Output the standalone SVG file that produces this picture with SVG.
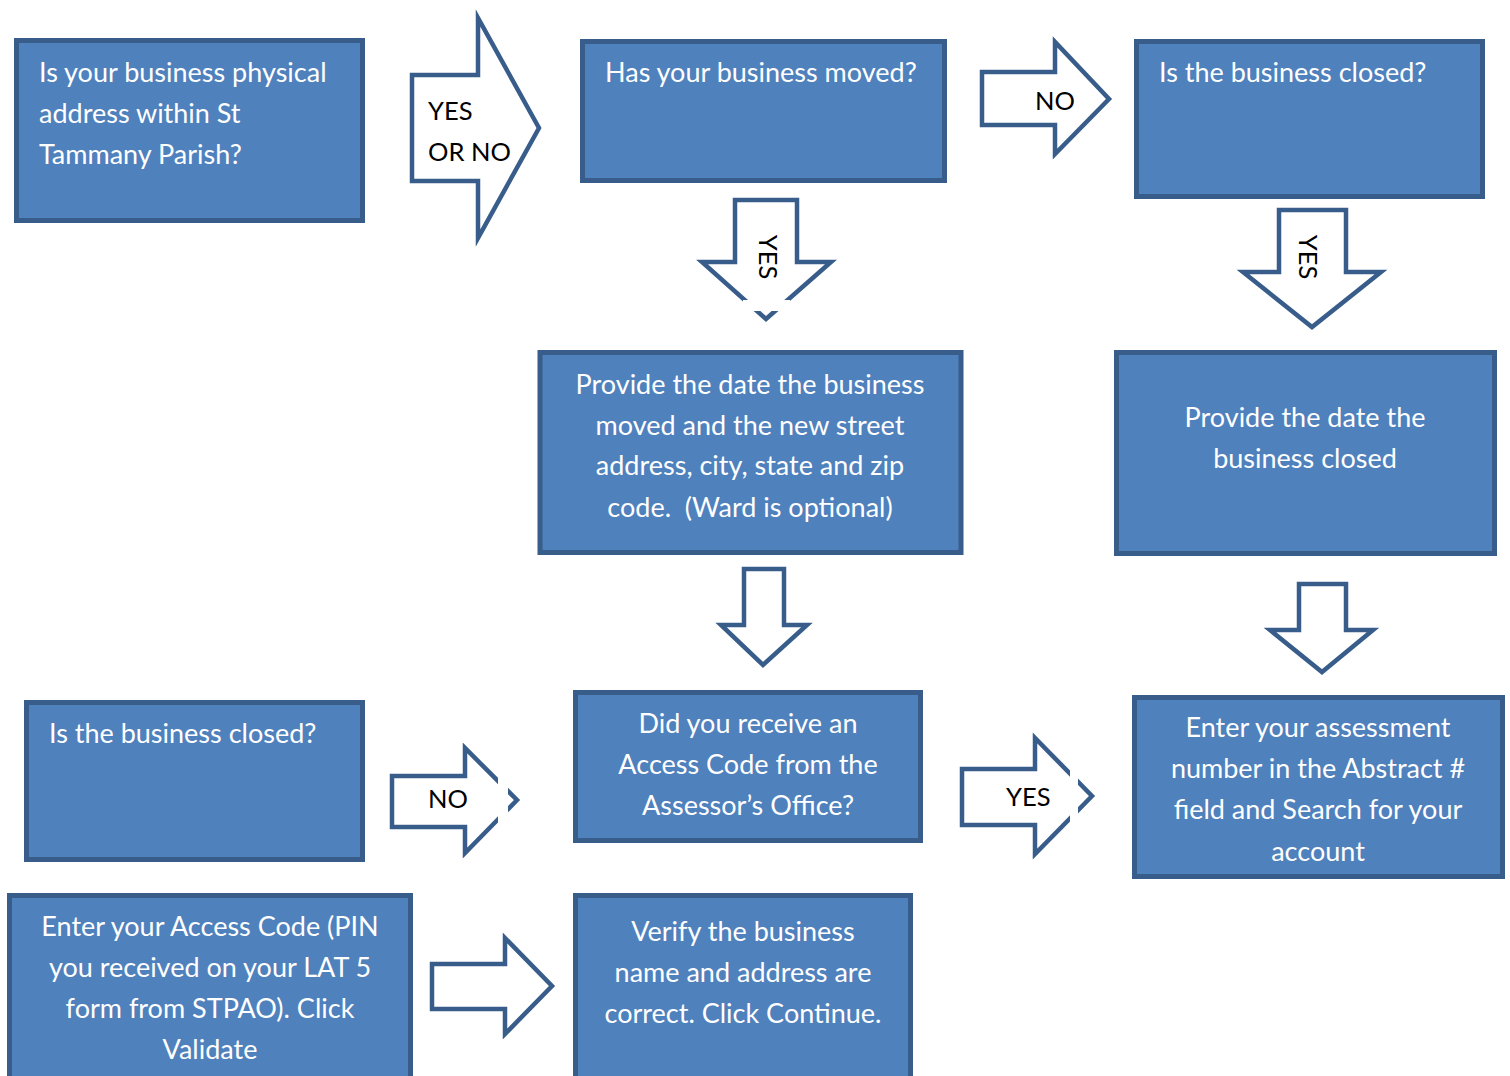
<svg xmlns="http://www.w3.org/2000/svg" width="1510" height="1076" viewBox="0 0 1510 1076">
<style>
.box{fill:#4F81BD;stroke:#385D8A;stroke-width:5}
.arr{fill:#FFFFFF;stroke:#385D8A;stroke-width:4.5;stroke-linejoin:miter}
.t{font-family:Lato,"Liberation Sans",sans-serif;font-size:27px;fill:#FFFFFF}
.c{text-anchor:middle}
.l{font-family:Lato,"Liberation Sans",sans-serif;font-size:25.5px;fill:#000000}
.gap{fill:#FFFFFF;stroke:none}
</style>
<rect x="0" y="0" width="1510" height="1076" fill="#FFFFFF"/>
<g id="connectors">
<polygon class="arr" points="412,75 478,75 478,18 539,128 478,238 478,181 412,181"/>
<polygon class="arr" points="982,72 1055,72 1055,42 1109,99 1055,154 1055,125 982,125"/>
<polygon class="arr" points="735,200 797,200 797,262 831,262 766,319 702,262 735,262"/>
<rect class="gap" x="743" y="300" width="47" height="11"/>
<polygon class="arr" points="1279,210 1346,210 1346,272 1381,272 1312,327 1243,272 1279,272"/>
<polygon class="arr" points="744,569 784,569 784,625 807,625 763,665 721,625 744,625"/>
<polygon class="arr" points="1299,584 1346,584 1346,630 1373,630 1322,672 1270,630 1299,630"/>
<polygon class="arr" points="392,776 465,776 465,748 517,800 465,853 465,827 392,827"/>
<rect class="gap" x="498" y="772" width="10" height="56"/>
<polygon class="arr" points="962,769 1035,769 1035,738 1092,796 1035,854 1035,825 962,825"/>
<rect class="gap" x="1070" y="770" width="8" height="54"/>
<polygon class="arr" points="432,964 505,964 505,938 552,986 505,1034 505,1009 432,1009"/>
<text class="l" x="428" y="120">YES</text>
<text class="l" x="428" y="161">OR NO</text>
<text class="l" x="1035" y="110">NO</text>
<text class="l c" transform="translate(768,257) rotate(90)" y="9">YES</text>
<text class="l c" transform="translate(1308,257) rotate(90)" y="9">YES</text>
<text class="l" x="428" y="808">NO</text>
<text class="l" x="1006" y="806">YES</text>
</g>
<g id="n1">
<rect class="box" x="16.5" y="40.5" width="346" height="180"/>
<text class="t" x="39" y="82">Is your business physical</text>
<text class="t" x="39" y="123">address within St</text>
<text class="t" x="39" y="164">Tammany Parish?</text>
</g>
<g id="n2">
<rect class="box" x="582.5" y="41.5" width="362" height="139"/>
<text class="t" x="605" y="82">Has your business moved?</text>
</g>
<g id="n3">
<rect class="box" x="1136.5" y="41.5" width="346" height="155"/>
<text class="t" x="1159" y="82">Is the business closed?</text>
</g>
<g id="n4">
<rect class="box" x="540" y="352.5" width="421" height="200"/>
<text class="t c" x="750" y="394">Provide the date the business</text>
<text class="t c" x="750" y="435">moved and the new street</text>
<text class="t c" x="750" y="475">address, city, state and zip</text>
<text class="t c" x="750" y="517" xml:space="preserve">code.  (Ward is optional)</text>
</g>
<g id="n5">
<rect class="box" x="1116.5" y="352.5" width="378" height="201"/>
<text class="t c" x="1305" y="427">Provide the date the</text>
<text class="t c" x="1305" y="468">business closed</text>
</g>
<g id="n6">
<rect class="box" x="26.5" y="702.5" width="336" height="157"/>
<text class="t" x="49" y="743">Is the business closed?</text>
</g>
<g id="n7">
<rect class="box" x="575.5" y="692.5" width="345" height="148"/>
<text class="t c" x="748" y="733">Did you receive an</text>
<text class="t c" x="748" y="774">Access Code from the</text>
<text class="t c" x="748" y="815">Assessor’s Office?</text>
</g>
<g id="n8">
<rect class="box" x="1134.5" y="697.5" width="368" height="179"/>
<text class="t c" x="1318" y="737">Enter your assessment</text>
<text class="t c" x="1318" y="778">number in the Abstract #</text>
<text class="t c" x="1318" y="819">field and Search for your</text>
<text class="t c" x="1318" y="861">account</text>
</g>
<g id="n9">
<rect class="box" x="9.5" y="895.5" width="401" height="200"/>
<text class="t c" x="210" y="936">Enter your Access Code (PIN</text>
<text class="t c" x="210" y="977">you received on your LAT 5</text>
<text class="t c" x="210" y="1018">form from STPAO). Click</text>
<text class="t c" x="210" y="1059">Validate</text>
</g>
<g id="n10">
<rect class="box" x="575.5" y="895.5" width="335" height="200"/>
<text class="t c" x="743" y="941">Verify the business</text>
<text class="t c" x="743" y="982">name and address are</text>
<text class="t c" x="743" y="1023">correct. Click Continue.</text>
</g>
</svg>
